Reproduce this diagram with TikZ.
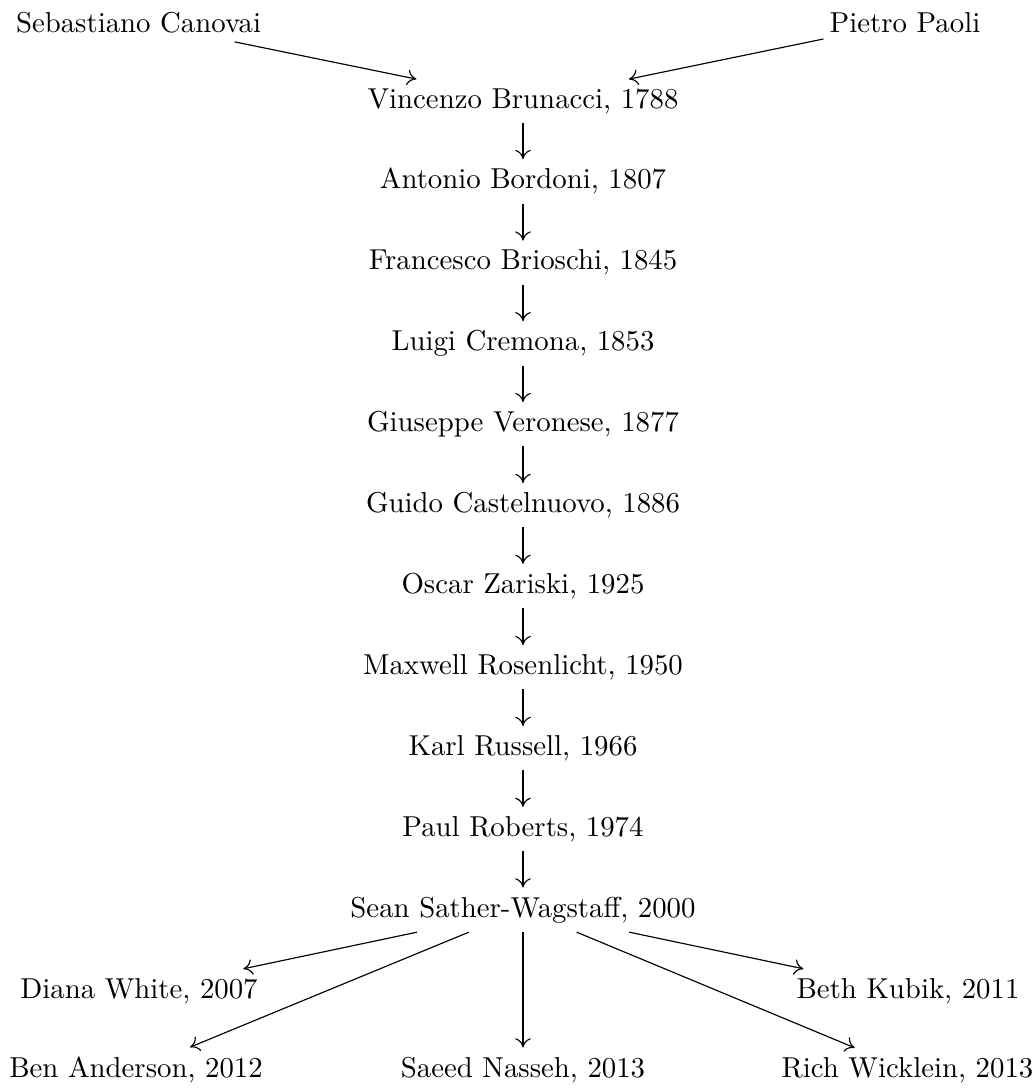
\documentclass[tikz,border=0pt]{standalone}
\usetikzlibrary{arrows.meta}
\begin{document}
\begin{tikzpicture}[x=0.3472pt,y=-0.3472pt,
  person/.style={inner xsep=2pt,inner ysep=3pt,anchor=base},
  edge/.style={-{Computer Modern Rightarrow[length=3.2pt,width=5.4pt]},line width=0.4pt}]
\useasboundingbox (0,0) rectangle (1036,1089);
\node[person] (can) at (138.5,32) {Sebastiano Canovai};
\node[person] (pao) at (905,32) {Pietro Paoli};
\node[person] (bru) at (523,108) {Vincenzo Brunacci, 1788};
\node[person] (bor) at (523,188.9) {Antonio Bordoni, 1807};
\node[person] (bri) at (523,269.8) {Francesco Brioschi, 1845};
\node[person] (cre) at (523,350.7) {Luigi Cremona, 1853};
\node[person] (ver) at (523,431.6) {Giuseppe Veronese, 1877};
\node[person] (cas) at (523,512.5) {Guido Castelnuovo, 1886};
\node[person] (zar) at (523,593.4) {Oscar Zariski, 1925};
\node[person] (ros) at (523,674.3) {Maxwell Rosenlicht, 1950};
\node[person] (rus) at (523,755.2) {Karl Russell, 1966};
\node[person] (rob) at (523,836.1) {Paul Roberts, 1974};
\node[person] (sat) at (523,917) {Sean Sather-Wagstaff, 2000};
\node[person] (whi) at (139,998) {Diana White, 2007};
\node[person] (kub) at (908,998) {Beth Kubik, 2011};
\node[person] (and) at (136,1077) {Ben Anderson, 2012};
\node[person] (nas) at (523,1077) {Saeed Nasseh, 2013};
\node[person] (wic) at (907.5,1077) {Rich Wicklein, 2013};
\draw[edge] (can) -- (bru);
\draw[edge] (pao) -- (bru);
\draw[edge] (bru) -- (bor);
\draw[edge] (bor) -- (bri);
\draw[edge] (bri) -- (cre);
\draw[edge] (cre) -- (ver);
\draw[edge] (ver) -- (cas);
\draw[edge] (cas) -- (zar);
\draw[edge] (zar) -- (ros);
\draw[edge] (ros) -- (rus);
\draw[edge] (rus) -- (rob);
\draw[edge] (rob) -- (sat);
\draw[edge] (sat) -- (whi);
\draw[edge] (sat) -- (kub);
\draw[edge] (sat) -- (and);
\draw[edge] (sat) -- (nas);
\draw[edge] (sat) -- (wic);
\end{tikzpicture}
\end{document}
